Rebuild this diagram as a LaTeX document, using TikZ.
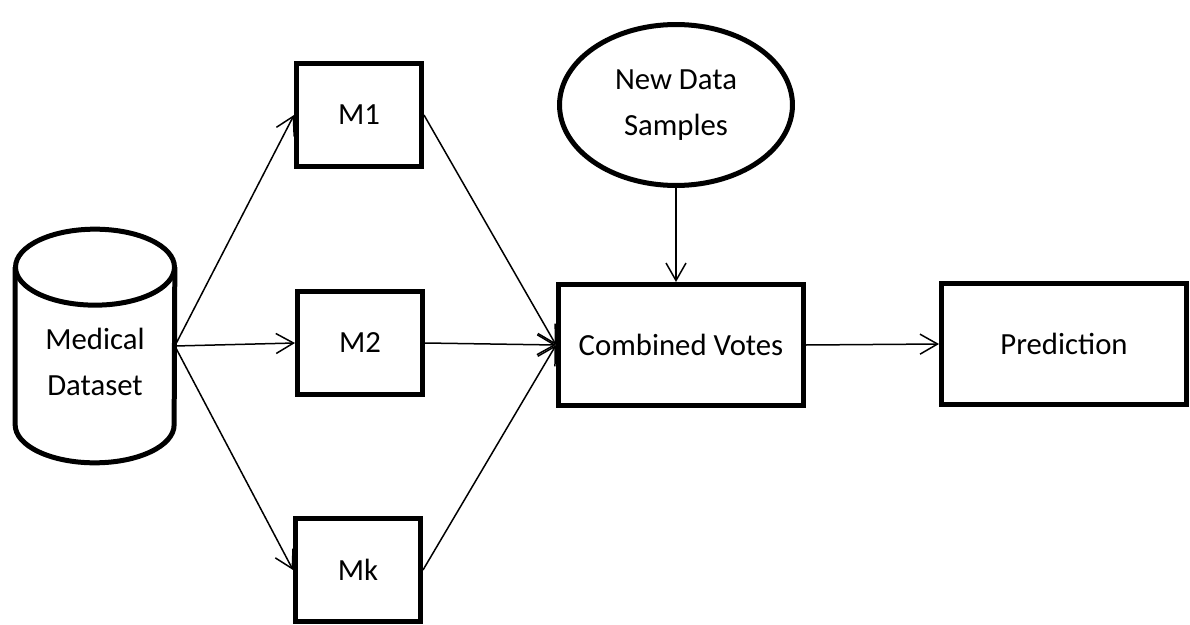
\documentclass[tikz,border=0pt]{standalone}
\usepackage{fontspec}
\setmainfont{Carlito}
\usetikzlibrary{arrows.meta}
\usetikzlibrary{shapes.geometric}
\tikzset{
every node/.style={inner sep=0pt, align=center, font=\fontsize{17.5}{26}\selectfont},
model/.style={draw, line width=1mm, rectangle, minimum width=2.5cm, minimum height=2.05cm},
stage/.style={draw, line width=1mm, rectangle, minimum width=4.9cm, minimum height=2.42cm},
drum/.style={line width=1mm},
link/.style={-{Straight Barb[length=3.5mm,width=4mm]}, line width=0.3mm}
}

\begin{document}
\begin{tikzpicture}[x=0.02cm, y=-0.02cm]
\useasboundingbox (0,0) rectangle (1190,625);
\node[minimum width=3.18cm, minimum height=4.66cm, label={[yshift=-0.32cm]center:Medical\\Dataset}] (data) at (95,346) {};
\node[model] (m1) at (359,115) {M1};
\node[model] (m2) at (360,343) {M2};
\node[model] (mk) at (358,570) {Mk};
\node[stage] (vote) at (681,345) {Combined Votes};
\node[stage] (pred) at (1064,344) {Prediction};
\node[draw, line width=1mm, ellipse, minimum width=4.66cm, minimum height=3.22cm] (new) at (676,105) {New Data\\Samples};

% database drum
\draw[drum] ([yshift=-0.76cm]data.north west) -- ([yshift=0.76cm]data.south west) arc[start angle=180, end angle=360, x radius=1.59cm, y radius=0.76cm] -- ([yshift=-0.76cm]data.north east);
\draw[drum] ([yshift=-0.76cm]data.north) ellipse[x radius=1.59cm, y radius=0.76cm];

\draw[link] (data.east) -- (m1.west);
\draw[link] (data.east) -- (m2.west);
\draw[link] (data.east) -- (mk.west);
\draw[link] (m1.east) -- (vote.west);
\draw[link] (m2.east) -- (vote.west);
\draw[link] (mk.east) -- (vote.west);
\draw[link] (new.south) -- (new.south |- vote.north);
\draw[link] (vote.east) -- (pred.west);
\end{tikzpicture}
\end{document}
